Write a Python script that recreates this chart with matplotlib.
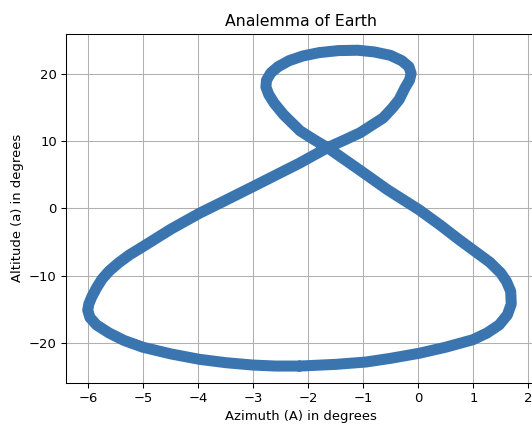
import matplotlib
matplotlib.use("Agg")
import matplotlib.pyplot as plt

# sun position traced over one year (degrees)
azimuth = [-2.16, -1.5, -0.95, -0.5, 0.02, 0.5, 0.99, 1.25, 1.47, 1.62, 1.69,
           1.68, 1.6, 1.5, 1.3, 1.1, 0.75, 0.4, 0.02, -0.55, -1.07, -1.65,
           -1.9, -2.15, -2.45, -2.62, -2.72, -2.77, -2.76, -2.68, -2.55, -2.35,
           -2.1, -1.8, -1.45, -1.1, -0.8, -0.51, -0.3, -0.17, -0.13, -0.16,
           -0.24, -0.35, -0.48, -0.64, -0.85, -1.06, -1.35, -1.65, -2.16, -3.01,
           -3.5, -3.98, -4.5, -5.01, -5.25, -5.45, -5.62, -5.75, -5.85, -5.94,
           -5.99, -6.01, -5.97, -5.85, -5.62, -5.35, -5.01, -4.5, -3.98, -3.5,
           -3.01, -2.6, -2.16]
altitude = [-23.4, -23.15, -22.8, -22.25, -21.5, -20.6, -19.5, -18.5, -17.3, -15.8, -14.2,
            -12.3, -10.8, -9.6, -8.0, -6.8, -4.7, -2.5, -0.25, 2.7, 5.7, 9.0,
            10.2, 11.5, 13.9, 15.6, 16.9, 18.0, 19.0, 20.1, 21.0, 21.9,
            22.6, 23.1, 23.4, 23.45, 23.2, 22.7, 21.9, 21.0, 20.0, 19.0,
            17.9, 16.1, 14.8, 13.4, 12.3, 11.2, 10.1, 9.0, 6.7, 3.2,
            1.2, -0.74, -3.1, -5.7, -6.9, -8.1, -9.3, -10.5, -11.8, -13.2,
            -14.2, -15.1, -16.2, -17.3, -18.5, -19.6, -20.6, -21.6, -22.4, -22.9,
            -23.25, -23.4, -23.4]

dpi = 94.5
fig = plt.figure(figsize=(532 / dpi, 424 / dpi), dpi=dpi)
ax = fig.add_axes([66 / 532, 41.3 / 424, 470 / 532, 348.7 / 424])

ax.plot(azimuth, altitude, color="#3a75b0", linewidth=8.4,
        solid_capstyle="round", solid_joinstyle="round")

ax.set_xlim(-6.405, 2.14)
ax.set_ylim(-25.87, 25.86)
ax.set_title("Analemma of Earth")
ax.set_xlabel("Azimuth (A) in degrees")
ax.set_ylabel("Altitude (a) in degrees")
ax.grid(True)

fig.savefig("out.png", dpi=dpi)
